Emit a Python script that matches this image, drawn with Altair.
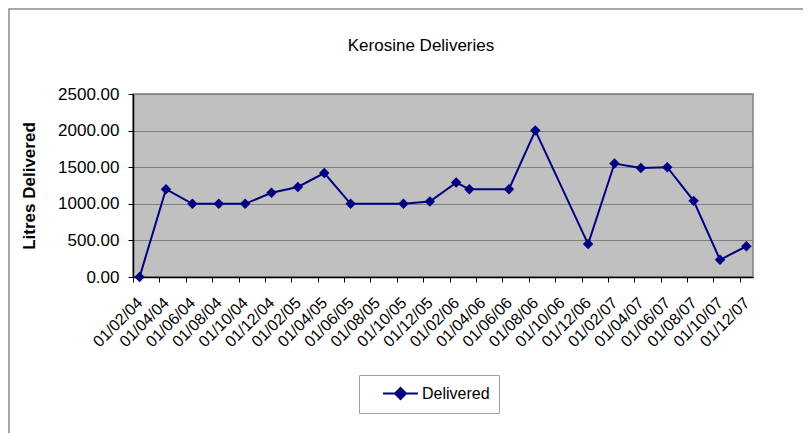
import altair as alt
import pandas as pd

dates = ["01/02/04", "01/04/04", "01/06/04", "01/08/04", "01/10/04", "01/12/04",
         "01/02/05", "01/04/05", "01/06/05", "01/10/05", "01/12/05",
         "01/02/06", "01/03/06", "01/06/06", "01/08/06", "01/12/06",
         "01/02/07", "01/04/07", "01/06/07", "01/08/07", "01/10/07", "01/12/07"]
delivered = [0, 1200, 1000, 1000, 1000, 1150,
             1230, 1420, 1000, 1000, 1030,
             1290, 1200, 1200, 2000, 450,
             1550, 1490, 1500, 1040, 235, 420]
tick_labels = ["01/02/04", "01/04/04", "01/06/04", "01/08/04", "01/10/04", "01/12/04",
               "01/02/05", "01/04/05", "01/06/05", "01/08/05", "01/10/05", "01/12/05",
               "01/02/06", "01/04/06", "01/06/06", "01/08/06", "01/10/06", "01/12/06",
               "01/02/07", "01/04/07", "01/06/07", "01/08/07", "01/10/07", "01/12/07"]
y_ticks = [0, 500, 1000, 1500, 2000, 2500]


def month_index(s):
    d, m, y = s.split("/")
    return (int(y) - 4) * 12 + (int(m) - 2)


label_pos = [month_index(s) for s in tick_labels]
n_months = label_pos[-1] + 1

df = pd.DataFrame({
    "m": [month_index(s) for s in dates],
    "date": dates,
    "value": delivered,
    "series": ["Delivered"] * len(dates),
})

W, H = 620, 183
FONT = "Liberation Sans"
NAVY = "#000080"
half = W / n_months / 2

labels_js = "[" + ",".join("'%s'" % s for s in tick_labels) + "]"
tick_vals = [p - 0.5 for p in label_pos]

x = alt.X("m:Q",
          scale=alt.Scale(domain=[-0.5, n_months - 0.5], nice=False, zero=False),
          axis=alt.Axis(values=tick_vals, title=None, grid=False,
                        labelExpr=labels_js + "[round((datum.value + 0.5) / 2)]",
                        labelOffset=half, labelAngle=-45, labelAlign="right",
                        labelBaseline="middle", labelPadding=18, labelFontSize=16,
                        labelFont=FONT, labelColor="#000", tickColor="#000",
                        tickSize=5, domainColor="#000", domainWidth=1.5,
                        labelOverlap=False, labelFlush=False))
y = alt.Y("value:Q",
          scale=alt.Scale(domain=[0, 2500], nice=False),
          axis=alt.Axis(values=y_ticks, format=".2f", title="Litres Delivered",
                        titleFont=FONT, titleFontSize=17, titleFontWeight="bold",
                        titleColor="#000", titlePadding=19,
                        labelFont=FONT, labelFontSize=17, labelColor="#000",
                        labelPadding=9, tickColor="#000", tickSize=5,
                        domainColor="#000", domainWidth=1.5,
                        gridColor="#808080", gridWidth=1))

color = alt.Color("series:N",
                  scale=alt.Scale(domain=["Delivered"], range=[NAVY]),
                  legend=alt.Legend(
                      title=None, orient="none", legendX=226, legendY=281,
                      padding=9, strokeColor="#a0a0a0", fillColor="#ffffff",
                      symbolType="M0.65,0H4.76M2.71,-0.65L3.36,0L2.71,0.65L2.06,0Z",
                      symbolSize=289, symbolStrokeWidth=2,
                      symbolFillColor=NAVY, symbolStrokeColor=NAVY,
                      labelOffset=35, labelFont=FONT, labelFontSize=16,
                      labelColor="#000"))

border = alt.Chart(alt.Data(values=[{}])).mark_rect(
    fillOpacity=0, stroke="#8c8c8c", strokeWidth=1.5
).encode(x=alt.value(-124), x2=alt.value(720), y=alt.value(-85), y2=alt.value(400))

base = alt.Chart(df)
line = base.mark_line(strokeWidth=2).encode(x=x, y=y, color=color)
pts = base.mark_point(shape="diamond", filled=True, size=110, opacity=1).encode(
    x=x, y=y, color=color)

chart = alt.layer(border, line, pts).properties(
    width=W, height=H,
    title=alt.TitleParams("Kerosine Deliveries", font=FONT, fontSize=17,
                          fontWeight="normal", color="#000", anchor="middle",
                          baseline="alphabetic",
                          frame="group", dx=-22, offset=-60),
    autosize=alt.AutoSizeParams(type="none"),
    padding={"left": 125, "top": 86, "right": 50, "bottom": 156},
).configure(
    background="#ffffff",
    view=alt.ViewConfig(fill="#C0C0C0", stroke="#808080", strokeWidth=1.5),
)

chart.save("out.html", embed_options={"renderer": "svg", "actions": False})
